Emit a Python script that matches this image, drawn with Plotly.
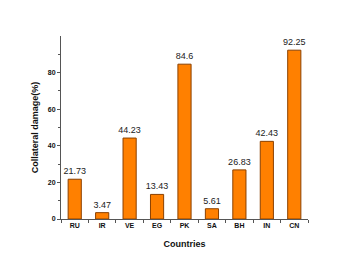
import plotly.graph_objects as go

countries = ["RU", "IR", "VE", "EG", "PK", "SA", "BH", "IN", "CN"]
damage = [21.73, 3.47, 44.23, 13.43, 84.6, 5.61, 26.83, 42.43, 92.25]
labels = ["21.73", "3.47", "44.23", "13.43", "84.6", "5.61", "26.83", "42.43", "92.25"]

fig = go.Figure(go.Bar(
    x=countries, y=damage, text=labels, textposition="outside",
    constraintext="none",
    textfont=dict(family="Liberation Sans, Arial", size=9, color="#222"),
    marker=dict(color="#FF8000", line=dict(color="#8B4000", width=1)),
    width=0.48, cliponaxis=False,
))

# page body adds an 8px offset, so the figure is sized to fit the window
fig.update_layout(
    width=336, height=256,
    margin=dict(l=53, r=36, t=28, b=45),
    paper_bgcolor="white", plot_bgcolor="white",
    showlegend=False,
    font=dict(family="Liberation Sans, Arial", color="#111"),
)
fig.update_xaxes(
    range=[-0.5, 8.5], showline=True, linecolor="#555", linewidth=1,
    ticks="outside", ticklen=3, tickcolor="#555", tickson="boundaries",
    tickfont=dict(size=7, weight="bold"),
    title=dict(text="<b>Countries</b>", font=dict(size=9), standoff=12),
    showgrid=False, automargin=False,
)
fig.update_yaxes(
    range=[0, 100], showline=True, linecolor="#555", linewidth=1,
    tickvals=[0, 20, 40, 60, 80], ticks="outside", ticklen=3, tickcolor="#555",
    minor=dict(tickvals=[10, 30, 50, 70, 90], ticks="outside", ticklen=2, tickcolor="#555"),
    tickfont=dict(size=7, weight="bold"),
    title=dict(text="<b>Collateral damage(%)</b>", font=dict(size=9), standoff=7),
    showgrid=False, zeroline=False, automargin=False,
)

fig.write_html("out.html")
